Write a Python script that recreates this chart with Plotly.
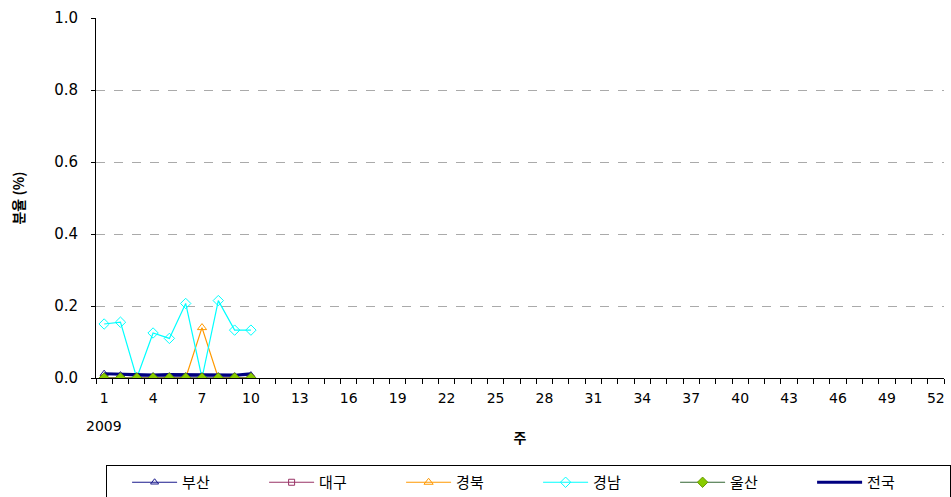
import plotly.graph_objects as go

weeks = list(range(1, 11))
busan = [0.012, 0.008, 0.005, 0.005, 0.005, 0.005, 0.005, 0.005, 0.005, 0.008]
daegu = [0, 0, 0, 0, 0, 0, 0, 0, 0, 0]
gyeongbuk = [0, 0, 0, 0, 0, 0, 0.14, 0, 0, 0]
gyeongnam = [0.15, 0.155, 0, 0.125, 0.11, 0.207, 0, 0.215, 0.133, 0.133]
ulsan = [0, 0, 0, 0, 0, 0, 0, 0, 0, 0]
national = [0.012, 0.01, 0.008, 0.008, 0.01, 0.01, 0.01, 0.01, 0.008, 0.012]
tick_weeks = list(range(1, 53, 3))
y_ticks = [0.0, 0.2, 0.4, 0.6, 0.8, 1.0]

FONT = "Noto Sans CJK KR"
NUMFONT = "DejaVu Sans"
fig = go.Figure()
fig.add_trace(go.Scatter(x=weeks, y=busan, name="부산", mode="lines+markers",
                         line=dict(color="#1a1a8c", width=1.2),
                         marker=dict(symbol="triangle-up-open", size=7, color="#1a1a8c")))
fig.add_trace(go.Scatter(x=weeks, y=daegu, name="대구", mode="lines+markers",
                         line=dict(color="#993366", width=1.2),
                         marker=dict(symbol="square-open", size=6, color="#993366")))
fig.add_trace(go.Scatter(x=weeks, y=gyeongbuk, name="경북", mode="lines+markers",
                         line=dict(color="#ff9900", width=1.2),
                         marker=dict(symbol="triangle-up-open", size=8, color="#ff9900")))
fig.add_trace(go.Scatter(x=weeks, y=gyeongnam, name="경남", mode="lines+markers",
                         line=dict(color="#00ffff", width=1.2),
                         marker=dict(symbol="diamond-open", size=8, color="#00ffff")))
fig.add_trace(go.Scatter(x=weeks, y=national, name="전국_hidden", mode="lines",
                         line=dict(color="#000080", width=3), showlegend=False))
fig.add_trace(go.Scatter(x=weeks, y=ulsan, name="울산", mode="lines+markers",
                         line=dict(color="#336633", width=1.2),
                         marker=dict(symbol="diamond", size=8, color="#88cc00",
                                     line=dict(color="#669900", width=1))))
fig.add_trace(go.Scatter(x=[None], y=[None], name="전국", mode="lines",
                         line=dict(color="#000080", width=3)))

fig.update_layout(
    width=951, height=497,
    margin=dict(l=96, r=7, t=18, b=119, autoexpand=False),
    paper_bgcolor="white", plot_bgcolor="white",
    font=dict(family=FONT, size=13, color="black"),
    showlegend=True,
    legend=dict(orientation="h", x=106 / 951, xref="container", xanchor="left",
                y=(497 - 465) / 497, yref="container", yanchor="top",
                bordercolor="black", borderwidth=1, entrywidth=77,
                font=dict(family=FONT, size=15), traceorder="normal",
                itemwidth=45,
                title=dict(text="&nbsp;&nbsp;&nbsp;", side="left", font=dict(size=15))),
    xaxis=dict(range=[0.5, 52.5], tickvals=tick_weeks, ticktext=[str(w) for w in tick_weeks],
               ticks="", showgrid=False, zeroline=False, showline=True,
               linecolor="black", linewidth=1, ticklabelstandoff=7,
               minor=dict(tick0=0.5, dtick=1, ticks="outside", ticklen=5, tickcolor="black",
                          showgrid=False),
               title=dict(text="<b>주</b>", font=dict(size=14), standoff=28),
               tickfont=dict(family=NUMFONT, size=14)),
    yaxis=dict(range=[0, 1.0], tickvals=y_ticks, ticktext=[f"{v:.1f}" for v in y_ticks],
               ticks="outside", ticklen=4, tickcolor="black", ticklabelstandoff=10,
               showgrid=True, gridcolor="#aaaaaa", griddash="dash", gridwidth=1,
               zeroline=False, showline=True, linecolor="black", linewidth=1,
               title=dict(text="<b>분율 (%)</b>", font=dict(size=14), standoff=26),
               tickfont=dict(family=NUMFONT, size=15)),
)
fig.add_annotation(x=1, y=0, xref="x", yref="paper", yshift=-38, text="2009",
                   showarrow=False, font=dict(size=14, family=NUMFONT), xanchor="center", yanchor="top")
fig.write_html("out.html", config={"displayModeBar": False},
               post_script="document.body.style.margin='0';")
